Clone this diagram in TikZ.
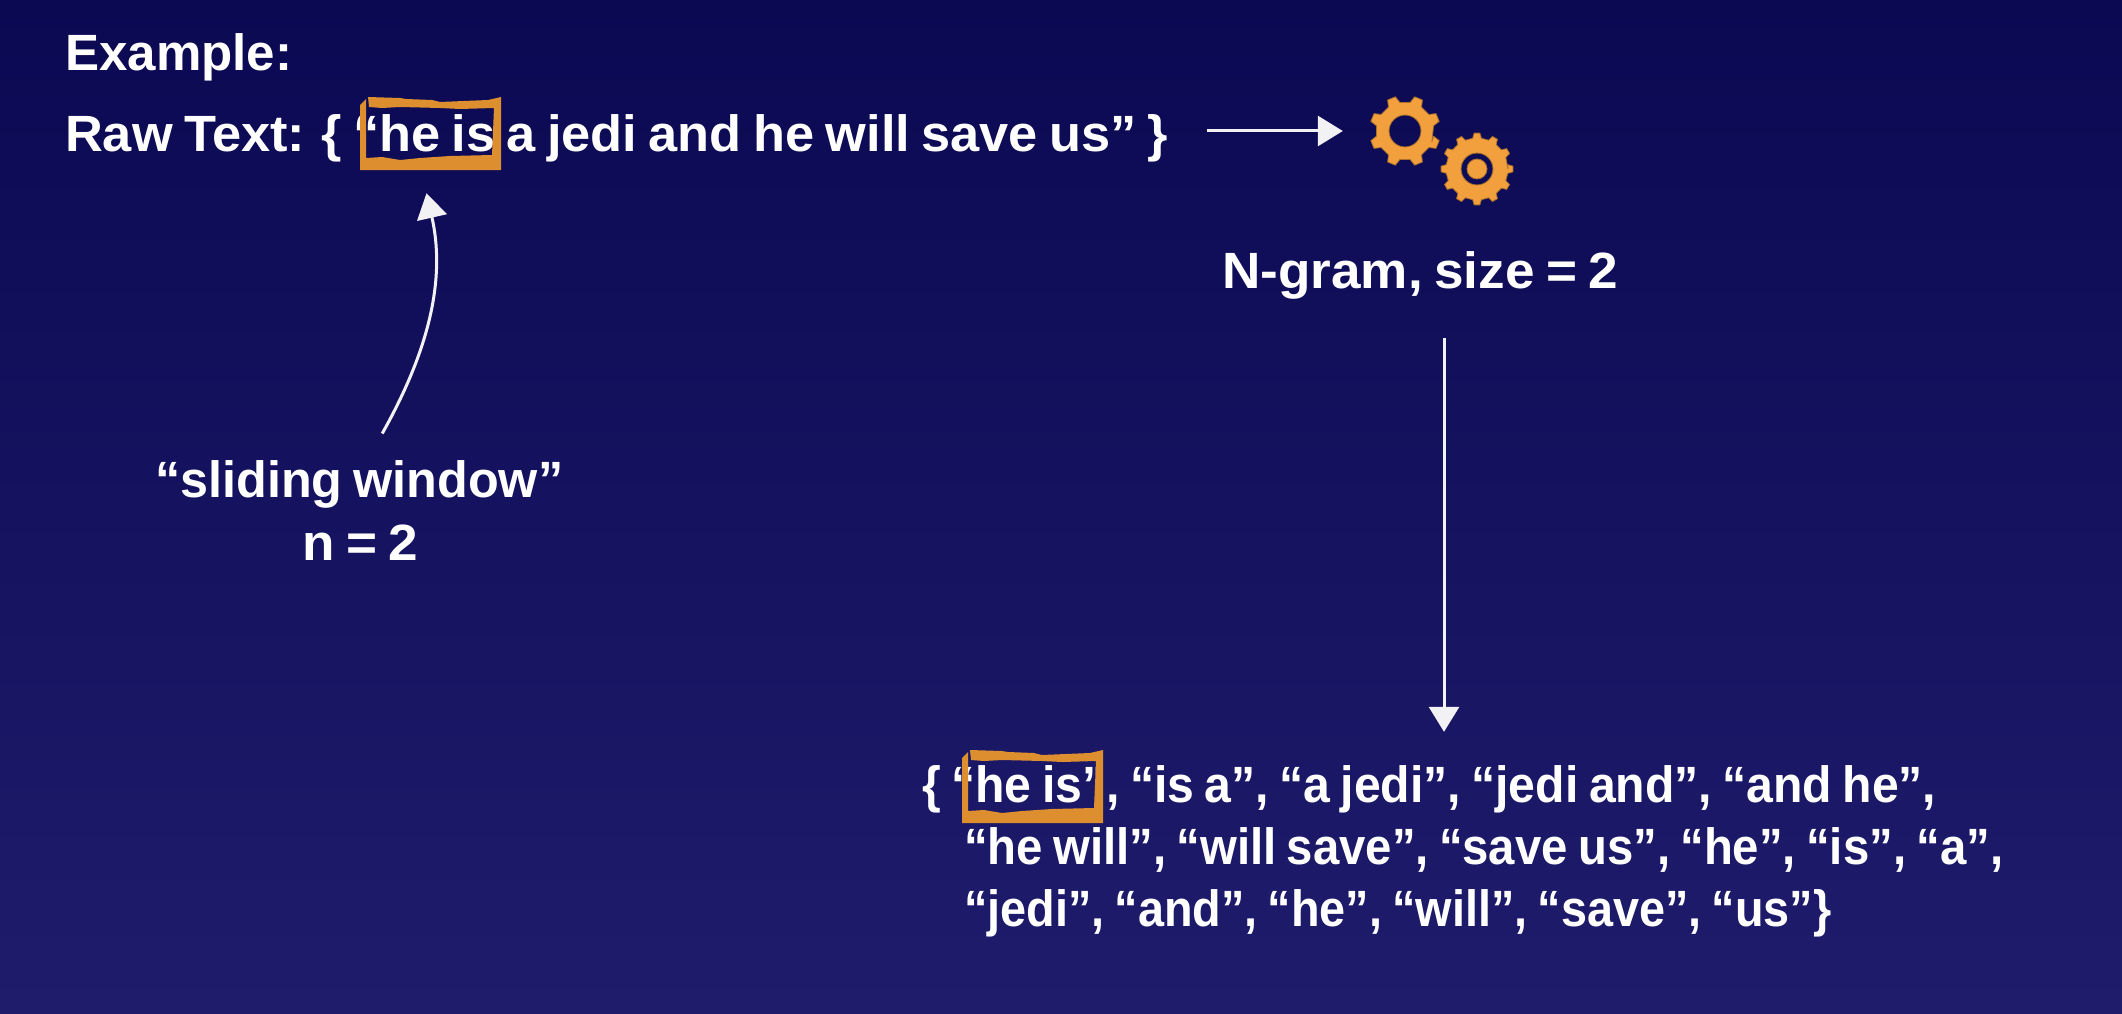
\documentclass[tikz,border=0pt]{standalone}
\usepackage{graphicx}
\usepackage{fontspec}
\setmainfont{Liberation Sans}[BoldFont={Liberation Sans Bold},WordSpace=0.78]
\usetikzlibrary{arrows.meta,calc}
\definecolor{bgtop}{HTML}{0B0952}
\definecolor{bgbot}{HTML}{1F1C6C}
\definecolor{gearor}{HTML}{F2A03D}
\definecolor{boxor}{HTML}{DD8F30}
\definecolor{chalk}{HTML}{F2F2F4}
\newcommand{\fitw}[2]{\resizebox{#1pt}{\height}{#2}}
% #1 Router, #2 Rvalley, #3 teeth, #4 angular offset
\newcommand{\buildgear}[4]{%
  \pgfmathsetmacro{\stepang}{360/#3}%
  \gdef\gearpts{}%
  \foreach \k in {1,...,#3}{%
    \pgfmathsetmacro{\aa}{#4+(\k-1)*\stepang-0.27*\stepang}%
    \pgfmathsetmacro{\ab}{#4+(\k-1)*\stepang-0.15*\stepang}%
    \pgfmathsetmacro{\ac}{#4+(\k-1)*\stepang+0.15*\stepang}%
    \pgfmathsetmacro{\ad}{#4+(\k-1)*\stepang+0.27*\stepang}%
    \xdef\gearpts{\gearpts -- (\aa:#2) -- (\ab:#1) -- (\ac:#1) -- (\ad:#2)}%
  }%
}
\newcommand{\roughbox}[2]{%
  \begin{scope}[shift={(#1,#2)}]
    \fill[boxor] (8,0) -- (40,1) -- (46,2) -- (72,3) -- (80,5) -- (128,3) -- (141,0) -- (141,73)
      -- (0,73) -- (0,8) -- (6,2) -- (6,61) -- (22,60) -- (40,63) -- (60,61) -- (90,59) -- (132,58)
      -- (134,11) -- (100,12) -- (80,11) -- (40,10) -- (22,11) -- (9,10) -- cycle;
  \end{scope}
}
\tikzset{
  txt/.style={anchor=base west,inner sep=0pt,text=white,font=\fontsize{51}{52}\selectfont\bfseries,text height=38pt,text depth=11pt},
  sketcharrow/.style={draw=chalk,line width=3pt,-{Triangle[length=25pt,width=30pt,fill=chalk]}},
  spot/.style={circle,inner sep=0pt,minimum size=70pt},
  gearfill/.style={fill=gearor,draw=gearor!70!black,line width=0.8pt,line join=round,even odd rule}
}
\begin{document}
\begin{tikzpicture}[x=1pt,y=-1pt]
\useasboundingbox (0,0) rectangle (2122,1014);
\shade[top color=bgtop,bottom color=bgbot] (0,0) rectangle (2122,1014);

\node[txt] (example) at (65,71) {\fitw{227}{Example:}};
\node[txt] (raw) at (65,151) {\fitw{1103}{Raw Text: \{ “he is a jedi and he will save us” \}}};
\node[txt] (ngram) at (1222,288) {\fitw{396}{N-gram, size = 2}};
\node[txt] (sliding) at (155,497) {\fitw{408}{“sliding window”}};
\node[txt] (nval) at (302,560) {\fitw{116}{n = 2}};
\node[txt] (line1) at (922,802) {\fitw{1014}{\{ “he is”, “is a”, “a jedi”, “jedi and”, “and he”,}};
\node[txt] (line2) at (964,864) {\fitw{1039}{“he will”, “will save”, “save us”, “he”, “is”, “a”,}};
\node[txt] (line3) at (964,926) {\fitw{867}{“jedi”, “and”, “he”, “will”, “save”, “us”\}}};

\roughbox{360}{97}
\roughbox{962}{750}
\node[minimum width=141pt,minimum height=73pt,inner sep=0pt] (win) at (430.5,133.5) {};

\node[spot] (gear1) at (1405,131) {};
\node[spot] (gear2) at (1477,169) {};
\buildgear{35.5}{29}{8}{22.5}
\begin{scope}[shift={(1405,131)}]
  \path[gearfill] (22.5:29) \gearpts -- cycle (0,0) circle[radius=16];
\end{scope}
\buildgear{36}{31}{12}{0}
\begin{scope}[shift={(1477,169)}]
  \path[gearfill] (0:31) \gearpts -- cycle (0,0) circle[radius=16] (0,0) circle[radius=10];
\end{scope}

\coordinate (ax) at (1444,0);
\draw[sketcharrow,shorten <=39pt,shorten >=27pt] (raw.east |- gear1.center) -- (gear1.west);
\draw[sketcharrow,shorten <=39pt,shorten >=32pt] (ngram.south -| ax) -- (line1.north -| ax);
\coordinate (cx) at (368,0);
\draw[sketcharrow,shorten <=29pt] (sliding.north -| cx) .. controls (432,345) and (445,275) .. ([shift={(-4,23)}]win.south);
\end{tikzpicture}
\end{document}
